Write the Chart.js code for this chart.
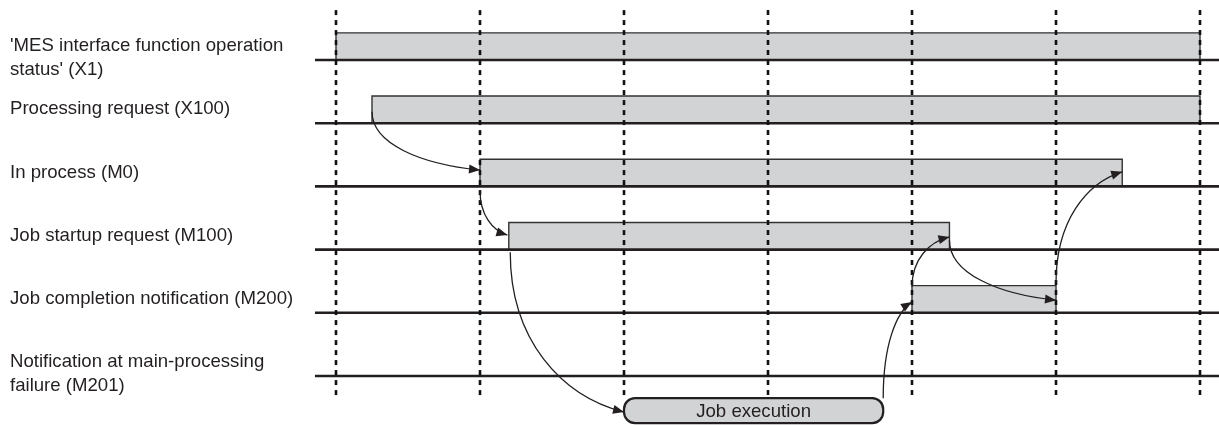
<!DOCTYPE html>
<html>
<head>
<meta charset="utf-8">
<script src="https://cdn.jsdelivr.net/npm/chart.js@4.4.0/dist/chart.umd.min.js"></script>
<style>
  html, body { margin: 0; padding: 0; background: #fff; }
  #wrap { position: relative; width: 1219px; height: 425px; }
</style>
</head>
<body>
<div id="wrap"><canvas id="grafico"></canvas></div>
<script>
// segnali (una riga ciascuno, dall'alto verso il basso)
const signals = [
  "'MES interface function operation\nstatus' (X1)",
  "Processing request (X100)",
  "In process (M0)",
  "Job startup request (M100)",
  "Job completion notification (M200)",
  "Notification at main-processing\nfailure (M201)"
];
// istanti di salita / discesa (in passi di tempo), null = sempre OFF
const onTimes  = [0,    0.25, 1,    1.2,  4,    null];
const offTimes = [6,    6,    5.46, 4.26, 5,    null];
// linee tratteggiate di riferimento
const stepTicks = [0, 1, 2, 3, 4, 5, 6];
// esecuzione del job
const jobLabel = "Job execution";
const jobStart = 2;
const jobEnd = 3.8;
// frecce: [tempo, riga] di partenza e di arrivo
const arrowFrom = [[0.25, 0.82], [1, 2.06], [1.21, 3.04], [3.8, 5.35], [4, 3.59], [4.26, 2.85], [5, 3.53]];
const arrowTo   = [[1, 1.74], [1.19, 2.77], [2, 5.57], [4, 3.83], [4.26, 2.80], [5, 3.80], [5.46, 1.77]];

const pulseHigh = 0.43;
const ink = '#231f20';
const gray = '#d1d3d4';
const font = '18.6px "Liberation Sans", Arial, sans-serif';

let datasets = [];

// linee tratteggiate verticali
stepTicks.forEach(t => {
  datasets.push({
    data: [{x: t, y: -0.79}, {x: t, y: 5.33}],
    showLine: true, borderColor: '#111', borderWidth: 2.6,
    borderDash: [5, 5], pointRadius: 0, order: 0
  });
});

// linee di base
signals.forEach((s, i) => {
  datasets.push({
    data: [{x: -0.146, y: i}, {x: 6.2, y: i}],
    showLine: true, borderColor: ink, borderWidth: 2.6,
    pointRadius: 0, order: 1
  });
});

// impulsi
signals.forEach((s, i) => {
  if (onTimes[i] === null) return;
  datasets.push({
    data: [
      {x: onTimes[i], y: i},
      {x: onTimes[i], y: i - pulseHigh},
      {x: offTimes[i], y: i - pulseHigh},
      {x: offTimes[i], y: i}
    ],
    showLine: true, borderColor: '#333', borderWidth: 1.4,
    backgroundColor: gray, fill: {value: i},
    pointRadius: 0, tension: 0, order: 2
  });
});

const decorPlugin = {
  id: 'decor',
  afterDatasetsDraw(chart) {
    const ctx = chart.ctx;
    const xs = chart.scales.x, ys = chart.scales.y;
    ctx.save();

    // etichette dei segnali
    ctx.font = font;
    ctx.fillStyle = ink;
    ctx.textBaseline = 'middle';
    ctx.textAlign = 'left';
    signals.forEach((s, i) => {
      const lines = s.split('\n');
      const base = ys.getPixelForValue(i);
      const mid = base - (lines.length === 1 ? 14 : 2);
      lines.forEach((l, k) => {
        ctx.fillText(l, 10, mid + (k - (lines.length - 1) / 2) * 24);
      });
    });

    // riquadro esecuzione job
    const bx0 = xs.getPixelForValue(jobStart), bx1 = xs.getPixelForValue(jobEnd);
    const by0 = ys.getPixelForValue(5.35), by1 = ys.getPixelForValue(5.745);
    ctx.beginPath();
    ctx.roundRect(bx0, by0, bx1 - bx0, by1 - by0, 11);
    ctx.fillStyle = gray;
    ctx.fill();
    ctx.lineWidth = 2.2;
    ctx.strokeStyle = ink;
    ctx.stroke();
    ctx.fillStyle = ink;
    ctx.textAlign = 'center';
    ctx.fillText(jobLabel, (bx0 + bx1) / 2, (by0 + by1) / 2 + 1);

    // frecce curve
    ctx.strokeStyle = ink;
    ctx.fillStyle = ink;
    ctx.lineWidth = 1.3;
    arrowFrom.forEach((f, i) => {
      const x0 = xs.getPixelForValue(f[0]), y0 = ys.getPixelForValue(f[1]);
      const x1 = xs.getPixelForValue(arrowTo[i][0]), y1 = ys.getPixelForValue(arrowTo[i][1]);
      const c1x = x0, c1y = y0 + 0.55 * (y1 - y0);
      const c2x = x0 + 0.45 * (x1 - x0), c2y = y1 - 0.1 * (y1 - y0);
      ctx.beginPath();
      ctx.moveTo(x0, y0);
      ctx.bezierCurveTo(c1x, c1y, c2x, c2y, x1, y1);
      ctx.stroke();
      const a = Math.atan2(y1 - c2y, x1 - c2x);
      const L = 11, W = 4.5;
      ctx.beginPath();
      ctx.moveTo(x1, y1);
      ctx.lineTo(x1 - L * Math.cos(a) + W * Math.sin(a), y1 - L * Math.sin(a) - W * Math.cos(a));
      ctx.lineTo(x1 - L * Math.cos(a) - W * Math.sin(a), y1 - L * Math.sin(a) + W * Math.cos(a));
      ctx.closePath();
      ctx.fill();
    });
    ctx.restore();
  }
};

new Chart(document.getElementById('grafico'), {
  type: 'scatter',
  data: { datasets: datasets },
  options: {
    responsive: true,
    maintainAspectRatio: false,
    animation: false,
    layout: { padding: 0 },
    plugins: { legend: { display: false }, tooltip: { enabled: false } },
    scales: {
      x: { type: 'linear', display: false, min: -2.3333, max: 6.1319 },
      y: { type: 'linear', display: false, reverse: true, min: -0.9494, max: 5.775 }
    }
  },
  plugins: [decorPlugin]
});
</script>
</body>
</html>
